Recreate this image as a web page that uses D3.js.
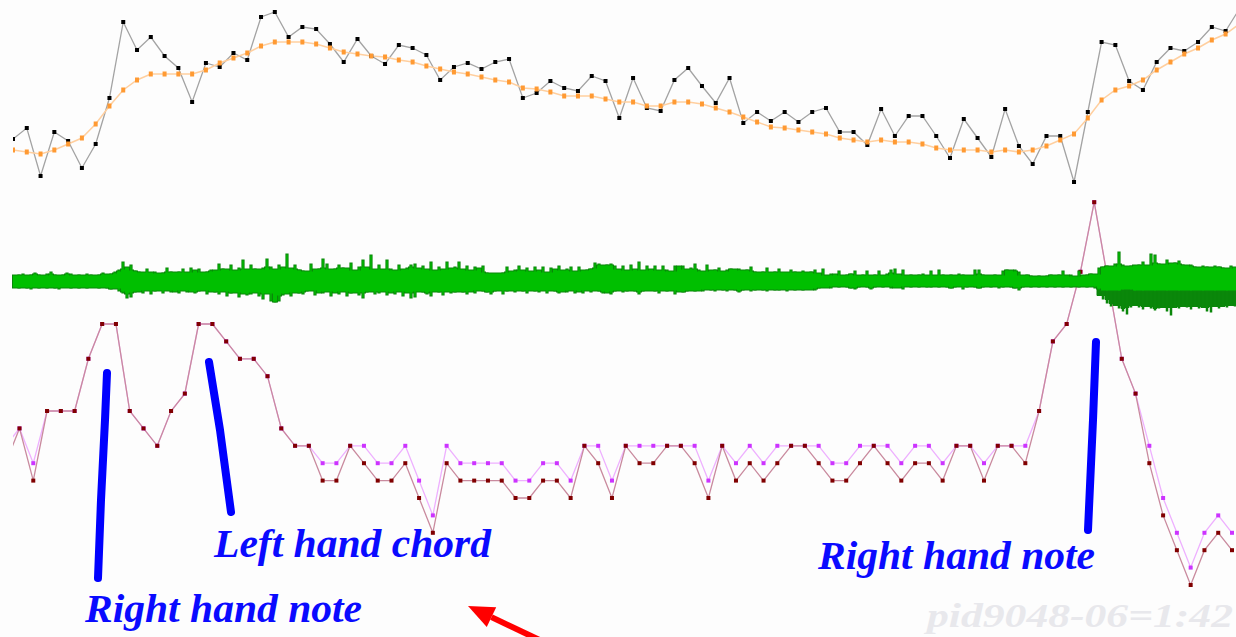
<!DOCTYPE html>
<html><head><meta charset="utf-8">
<script src="https://cdn.jsdelivr.net/npm/d3@7"></script>
<style>html,body{margin:0;padding:0;background:#fdfdfd;} svg{display:block;}</style>
</head><body>
<svg id="chart" width="1236" height="637"></svg>
<script>
// Pitch track: raw frame estimates and the smoothed contour (one value per frame)
const pitchRaw = [51,62,14,58,49,22,46,92,168,140,153,134,122,88,127,123,137,130,173,178,
  153,163,161,146,128,151,134,126,145,142,135,110,123,127,121,128,131,92,97,109,
  102,99,114,109,72,112,82,79,110,122,104,87,112,67,78,69,78,68,78,82,
  58,58,45,81,54,74,74,54,32,71,52,33,81,44,26,54,54,8,78,148,
  145,109,100,128,142,139,148,163,159,181];
const pitchSmooth = [40,38,36,40,46,52,66,84,100,110,116,116,116,116,120,127,132,137,144,148,
  148,148,146,142,138,136,134,133,130,128,124,121,118,116,113,110,108,102,101,98,
  94,94,94,91,88,88,84,84,88,88,86,82,78,73,68,63,62,60,58,56,
  52,50,48,50,48,48,46,42,40,40,40,38,40,38,40,44,50,56,72,90,
  100,104,110,120,128,136,142,150,156,166];

// Waveform peaks per 4-px block: excursion above and below the zero line
const waveUp = [6,7,8,6,7,9,7,6,8,10,7,6,7,9,8,6,7,6,8,7,6,7,9,7,8,10,
  12,20,14,17,11,
  10,9,13,9,10,8,9,14,10,9, 10,13,9,14,11,13,9,10,12,11,
  18,13,12,17,11,14,22,12,17,13, 12,14,23,15,12,17,14,28,13,17,
  12,11,10,18,12,13,23,18,12,13, 17,14,13,19,11,15,22,14,27,12,
  17,12,22,13,11,17,12,14,17,18, 13,16,12,20,11,15,12,20,13,15,
  20,12,16,11,15,13,16,9,8,8, 8,9,15,10,12,16,11,14,10,15,
  11,15,9,14,12,16,11,13,15,10, 15,11,12,13,19,18,16,17,18,16,
  12,16,11,17,12,20,11,16,12,16, 11,16,12,10,16,15,16,12,14,18,
  12,10,17,11,12,14,10,12,13,12, 13,11,12,15,10,9,10,14,9,10,
  13,9,9,12,10,9,11,9,10,12, 8,13,6,8,7,11,6,7,8,11,
  6,7,11,6,7,11,6,8,12,13, 7,12,6,7,6,7,8,6,11,6,
  12,7,6,7,6,8,7,6,6,12, 12,7,6,6,7,6,11,12,11,12,
  10,6,7,6,5,6,5,6,7,6, 7,11,6,7,5,11,6,7,8,7,
  14,15,16,15,18,30,17,15,16,16, 17,20,16,28,27,18,17,22,18,19,
  21,17,16,17,15,14,16,15,14,16, 15,14,13,16,14];
const waveDown = [6,7,6,7,8,6,7,6,7,6,7,8,6,6,7,6,7,6,7,6,6,7,6,7,8,7,
  10,12,17,16,11,
  10,12,9,13,10,9,12,9,11,10, 12,9,11,10,12,10,9,13,10,11,
  13,10,15,12,11,16,12,14,13,11, 15,18,12,20,21,20,14,12,15,11,
  12,13,10,9,14,11,12,10,15,11, 13,10,15,12,11,14,17,11,10,13,
  12,10,14,11,13,10,15,11,17,16, 10,11,13,15,10,11,14,10,12,11,
  10,11,13,10,12,9,10,11,13,10, 9,13,10,9,11,9,10,12,9,10,
  11,9,12,9,10,12,10,11,9,12, 10,12,9,11,9,10,12,11,13,10,
  9,11,10,9,10,13,10,9,9,10, 12,9,10,9,13,10,11,10,9,10,
  9,10,8,9,10,8,9,10,8,9, 11,9,8,10,9,8,9,10,8,9,
  9,8,10,8,9,8,9,8,8,9, 7,6,6,7,5,6,5,6,7,8,
  6,5,6,8,6,5,6,5,7,6, 6,8,5,6,5,6,5,6,6,5,
  6,5,6,7,6,5,8,6,5,6, 7,6,5,6,5,7,6,5,6,7,
  9,6,5,6,5,6,5,6,5,6, 5,6,5,6,5,6,5,6,5,7,
  9,9,10,9,9,10,9,8,9,10, 9,10,9,9,10,9,9,10,9,9,
  10,9,9,10,9,9,10,9,9,10, 9,9,10,9,9];
// Second channel's lower excursion once the sustained note sounds (from block 271)
const lateBlock = 271;
const waveDownLate = [14,18,22,25,24,27,30,33,26,24, 26,28,25,27,29,27,26,30,34,26,
  27,25,26,28,25,27,26,30,31,25, 27,25,26,24,25];

// Onset detection curves, frames -1 .. 88 (offset by half a frame)
const onsetA = [7, 9,6,10,10,10,13,15,15,10,9, 8,10,11,15,15,14,13,13,12,9,
  8,8,6,6,8,7,6,6,7,5, 3,7,6,6,6,6,5,5,6,6, 5,8,7,5,8,7,7,8,8,7,
  5,8,6,7,6,7,8,8,7,6, 6,7,8,7,6,7,7,6,8,8, 6,8,8,7,10,14,15,18,22,17.5,
  13,11,7,4,2,0,2,3,2];
const onsetB = [8, 9,7,10,10,10,13,15,15,10,9, 8,10,11,15,15,14,13,13,12,9,
  8,8,7,7,8,8,7,7,8,6, 4,8,7,7,7,7,6,6,7,7, 6,8,8,6,8,8,8,8,8,8,
  6,8,7,8,7,8,8,8,8,7, 7,8,8,8,7,8,8,7,8,8, 7,8,8,8,10,14,15,18,22,17.5,
  13,11,8,5,3,1,3,4,3];

const noteLabels = ["Right hand note", "Left hand chord", "Right hand note"];
const stamp = "pid9048-06=1:42";

const W = 1236, H = 637;
const svg = d3.select("#chart");
svg.append("rect").attr("width", W).attr("height", H).attr("fill", "#fdfdfd");

svg.append("defs").append("clipPath").attr("id", "plotClip")
  .append("rect").attr("x", 13).attr("y", 0).attr("width", W - 13).attr("height", H);

// ---------- top panel: pitch ----------
const xTop = d3.scaleLinear().domain([0, 88]).range([13, 1225.6]);
const yTop = d3.scaleLinear().domain([0, 190]).range([190, 0]);
const pitchG = svg.append("g").attr("clip-path", "url(#plotClip)");
const lineTop = d3.line().x((d, i) => xTop(i)).y(d => yTop(d));

pitchG.append("path").datum(pitchRaw).attr("d", lineTop)
  .attr("fill", "none").attr("stroke", "#a3a3a3").attr("stroke-width", 1.3);
pitchG.append("path").datum(pitchSmooth).attr("d", lineTop)
  .attr("fill", "none").attr("stroke", "#ffcf9f").attr("stroke-width", 1.5);
pitchG.selectAll("rect.raw").data(pitchRaw).join("rect").attr("class", "raw")
  .attr("x", (d, i) => xTop(i) - 2).attr("y", d => yTop(d) - 2)
  .attr("width", 4).attr("height", 4).attr("fill", "#000");
pitchG.selectAll("rect.smooth").data(pitchSmooth).join("rect").attr("class", "smooth")
  .attr("x", (d, i) => xTop(i) - 2).attr("y", d => yTop(d) - 2.5)
  .attr("width", 4).attr("height", 5).attr("fill", "#ff9a33");

// ---------- bottom panel: onset curves ----------
const xBot = d3.scaleLinear().domain([-1, 88]).range([19.5 - 13.78, 1232]);
const yBot = d3.scaleLinear().domain([0, 22]).range([585, 202.2]);
const onsetG = svg.append("g").attr("clip-path", "url(#plotClip)");
const lineBot = d3.line().x((d, i) => xBot(i - 1)).y(d => yBot(d));

onsetG.append("path").datum(onsetB).attr("d", lineBot)
  .attr("fill", "none").attr("stroke", "#eeb0ff").attr("stroke-width", 1.3);
onsetG.append("path").datum(onsetA).attr("d", lineBot)
  .attr("fill", "none").attr("stroke", "#c98a9e").attr("stroke-width", 1.3);
onsetG.selectAll("rect.b").data(onsetB).join("rect").attr("class", "b")
  .attr("x", (d, i) => xBot(i - 1) - 2).attr("y", d => yBot(d) - 2)
  .attr("width", 4).attr("height", 4).attr("fill", "#cc33ff");
onsetG.selectAll("rect.a").data(onsetA).join("rect").attr("class", "a")
  .attr("x", (d, i) => xBot(i - 1) - 2).attr("y", d => yBot(d) - 2)
  .attr("width", 4).attr("height", 4).attr("fill", "#800000");

// ---------- middle panel: waveform ----------
// each block's peak is a short stroke with a dark rim; the body of the signal is
// the local floor of neighbouring peaks, so isolated peaks stick out as spikes
const DARK = "#0a870a", BRIGHT = "#00bf00";
const xWave = d3.scaleLinear().domain([0, 1]).range([13, 17]);
const yWave = d3.scaleLinear().domain([-1, 1]).range([282.5, 280.5]);
const around = (arr, i) => d3.min([arr[i - 1] ?? arr[i], arr[i], arr[i + 1] ?? arr[i]]);
const blocks = waveUp.map((u, i) => ({
  i, up: u, down: waveDown[i],
  late: i >= lateBlock ? waveDownLate[i - lateBlock] : null,
  bodyUp: around(waveUp, i), bodyDown: around(waveDown, i),
  lateBody: i >= lateBlock ? around(waveDownLate, i - lateBlock) : null
}));
const body = blocks.concat([{ ...blocks[blocks.length - 1], i: blocks.length }]);
const lateBlocks = blocks.filter(b => b.late !== null);
const lateBody = lateBlocks.concat([{ ...lateBlocks[lateBlocks.length - 1], i: blocks.length }]);
const waveG = svg.append("g");
const bodyArea = d3.area().curve(d3.curveStepAfter).x(d => xWave(d.i))
  .y0(d => yWave(-d.bodyDown)).y1(d => yWave(d.bodyUp));

// second channel underneath once the sustained note starts
waveG.append("path").datum(lateBody)
  .attr("d", d3.area().curve(d3.curveStepAfter).x(d => xWave(d.i))
    .y0(d => yWave(-d.lateBody)).y1(yWave(0)))
  .attr("fill", DARK).attr("stroke", DARK).attr("stroke-width", 1);
waveG.selectAll("line.lateSpike").data(lateBlocks).join("line").attr("class", "lateSpike")
  .attr("x1", d => xWave(d.i + 0.5)).attr("x2", d => xWave(d.i + 0.5))
  .attr("y1", yWave(0)).attr("y2", d => yWave(-d.late))
  .attr("stroke", DARK).attr("stroke-width", 2.5);

// rim of the body and spikes
waveG.append("path").datum(body).attr("d", bodyArea)
  .attr("fill", DARK).attr("stroke", DARK).attr("stroke-width", 2);
waveG.selectAll("line.spikeRim").data(blocks).join("line").attr("class", "spikeRim")
  .attr("x1", d => xWave(d.i + 0.5)).attr("x2", d => xWave(d.i + 0.5))
  .attr("y1", d => yWave(d.up)).attr("y2", d => yWave(-d.down))
  .attr("stroke", DARK).attr("stroke-width", 3.2);
// bright interior
waveG.selectAll("line.spike").data(blocks).join("line").attr("class", "spike")
  .attr("x1", d => xWave(d.i + 0.5)).attr("x2", d => xWave(d.i + 0.5))
  .attr("y1", d => yWave(d.up - 1)).attr("y2", d => yWave(-(d.down - 1)))
  .attr("stroke", BRIGHT).attr("stroke-width", 1.3);
waveG.append("path").datum(body).attr("d", bodyArea).attr("fill", BRIGHT);

// ---------- annotations ----------
const annG = svg.append("g");
const pen = d3.line().curve(d3.curveLinear);
[[[107, 373], [105, 420], [101, 500], [98, 578]],
 [[209, 362], [220, 430], [231, 512]],
 [[1096, 342], [1093, 420], [1088, 530]]].forEach(pts => {
  annG.append("path").attr("d", pen(pts)).attr("fill", "none")
    .attr("stroke", "#0000ff").attr("stroke-width", 8)
    .attr("stroke-linecap", "round").attr("stroke-linejoin", "round");
});

const labelPos = [[85, 622], [214, 557], [818, 569]];
noteLabels.forEach((t, k) => {
  annG.append("text").attr("x", labelPos[k][0]).attr("y", labelPos[k][1])
    .attr("textLength", 277).attr("lengthAdjust", "spacingAndGlyphs")
    .attr("font-family", "'Liberation Serif', 'DejaVu Serif', serif")
    .attr("font-style", "italic").attr("font-weight", "bold")
    .attr("font-size", 40).attr("fill", "#0a0aff").text(t);
});

annG.append("text").attr("x", 927).attr("y", 627)
  .attr("textLength", 306).attr("lengthAdjust", "spacingAndGlyphs")
  .attr("font-family", "'Liberation Serif', 'DejaVu Serif', serif")
  .attr("font-style", "italic").attr("font-weight", "bold")
  .attr("font-size", 34).attr("fill", "#e8e8ec").text(stamp);

// red pointer arrow
const tip = [468, 606], tail = [548, 644];
const dx = tip[0] - tail[0], dy = tip[1] - tail[1];
const len = Math.hypot(dx, dy), ux = dx / len, uy = dy / len;
const headLen = 26, headHalf = 11;
const headBase = [tip[0] - ux * headLen, tip[1] - uy * headLen];
annG.append("line").attr("x1", tail[0]).attr("y1", tail[1])
  .attr("x2", headBase[0]).attr("y2", headBase[1])
  .attr("stroke", "#ff0000").attr("stroke-width", 6);
annG.append("polygon").attr("fill", "#ff0000").attr("points", [
  tip,
  [headBase[0] - uy * headHalf, headBase[1] + ux * headHalf],
  [headBase[0] + uy * headHalf, headBase[1] - ux * headHalf]
].map(p => p.join(",")).join(" "));
</script>
</body></html>
